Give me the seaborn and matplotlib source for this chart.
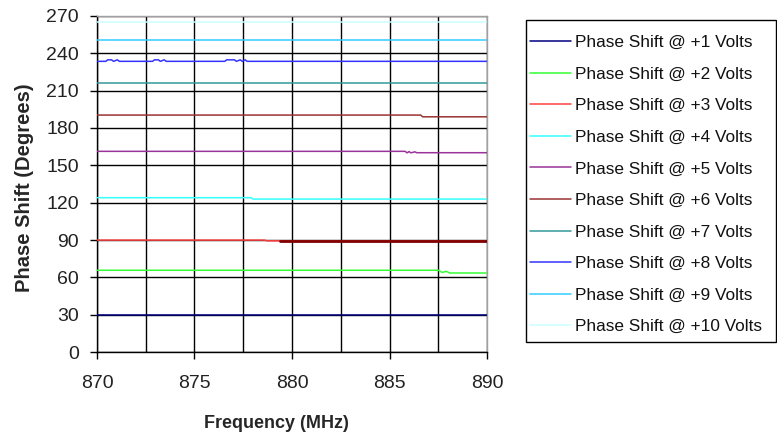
import numpy as np
import pandas as pd
import matplotlib
matplotlib.use("Agg")
import matplotlib.pyplot as plt
from matplotlib.patches import Rectangle
import seaborn as sns

# Phase shift vs frequency, one series per control voltage
volts = ["+1", "+2", "+3", "+4", "+5", "+6", "+7", "+8", "+9", "+10"]

freq_1 = [870, 890]
phase_1 = [30.0, 30.0]

freq_2 = [870, 887.5, 887.7, 887.9, 888.1, 888.3, 890]
phase_2 = [65.8, 65.8, 64.0, 65.0, 63.6, 63.6, 63.6]

freq_3 = [870, 878.6, 878.7, 890]
phase_3 = [90.0, 90.0, 89.4, 89.4]

freq_4 = [870, 877.9, 878.0, 890]
phase_4 = [124.0, 124.0, 122.9, 122.9]

freq_5 = [870, 885.8, 885.9, 886.0, 886.1, 886.3, 886.4, 890]
phase_5 = [161.2, 161.2, 160.0, 161.0, 160.0, 160.8, 160.1, 160.1]

freq_6 = [870, 886.6, 886.7, 890]
phase_6 = [190.3, 190.3, 188.9, 188.9]

freq_7 = [870, 890]
phase_7 = [216.0, 216.0]

freq_8 = [870, 870.45, 870.55, 870.75, 870.85, 871.05, 871.15,
          872.85, 872.95, 873.15, 873.25, 873.45, 873.55,
          876.55, 876.65, 877.05, 877.15, 877.35, 877.45, 877.6, 877.7, 890]
phase_8 = [233.4, 233.4, 234.6, 234.6, 233.4, 234.6, 233.4,
           233.4, 234.6, 234.6, 233.4, 234.6, 233.4,
           233.4, 234.6, 234.6, 233.4, 234.6, 233.4, 234.6, 233.4, 233.4]

freq_9 = [870, 890]
phase_9 = [250.7, 250.7]

freq_10 = [870, 890]
phase_10 = [264.6, 264.6]

# darker trace lying on top of the +3 V line past ~879 MHz
overlay_freq = [879.4, 890]
overlay_phase = [89.4, 89.4]

colors = ["#000080", "#33ff33", "#ff4040", "#33ffff", "#993399",
          "#993333", "#339999", "#3333ff", "#33ccff", "#ccffff"]

freqs = [freq_1, freq_2, freq_3, freq_4, freq_5, freq_6, freq_7, freq_8, freq_9, freq_10]
phases = [phase_1, phase_2, phase_3, phase_4, phase_5, phase_6, phase_7, phase_8, phase_9, phase_10]

rows = []
for v, fx, py in zip(volts, freqs, phases):
    for f, p in zip(fx, py):
        rows.append(dict(series=f"Phase Shift @ {v} Volts", freq=f, phase=p))
df = pd.DataFrame(rows)

sns.set_theme(style="white")
plt.rcParams["font.family"] = ["Liberation Sans", "DejaVu Sans"]

W, H = 777, 434
fig = plt.figure(figsize=(W / 100, H / 100), dpi=100)
ax = fig.add_axes([0.1248, 0.1883, 0.502, 0.7755])

labels = [f"Phase Shift @ {v} Volts" for v in volts]
sns.lineplot(data=df, x="freq", y="phase", hue="series", hue_order=labels,
             palette=colors, estimator=None, sort=False, units="series",
             linewidth=1.1, ax=ax, zorder=3)
ax.plot(overlay_freq, overlay_phase, color="#800000", linewidth=2.0, zorder=4)

ax.set_xlim(870, 890)
ax.set_ylim(0, 270)
ax.set_xticks(np.arange(870, 891, 5))
ax.set_xticks(np.arange(870, 891, 2.5), minor=True)
ax.set_yticks(np.arange(0, 271, 30))
ax.grid(True, which="both", axis="x", color="black", linewidth=1.0, zorder=1)
ax.grid(True, which="major", axis="y", color="black", linewidth=1.0, zorder=1)
ax.set_axisbelow(True)

ax.tick_params(axis="both", which="major", direction="out", length=5, width=1,
               color="black", labelsize=14, labelcolor="#222222",
               bottom=True, left=True)
ax.tick_params(axis="x", which="minor", length=0)
ax.tick_params(axis="x", which="major", pad=11)
ax.tick_params(axis="y", which="major", pad=8)

for side in ["left", "bottom"]:
    ax.spines[side].set_color("black")
    ax.spines[side].set_linewidth(1.0)
for side in ["top", "right"]:
    ax.spines[side].set_color("#a0a0a0")
    ax.spines[side].set_linewidth(1.0)

ax.set_xlabel("Frequency (MHz)", fontsize=13, fontweight="bold", labelpad=17, x=0.46)
ax.set_ylabel("Phase Shift (Degrees)", fontsize=14.5, fontweight="bold", labelpad=9, y=0.488)

# legend: entries without frame, box drawn separately
handles, _ = ax.get_legend_handles_labels()
if ax.get_legend():
    ax.get_legend().remove()
leg = fig.legend(handles[:10], labels, loc="upper left",
                 bbox_to_anchor=(530 / W, 1 - 35 / H), frameon=False,
                 fontsize=12.4, labelspacing=0.96,
                 handlelength=2.4, handletextpad=0.2, borderpad=0,
                 borderaxespad=0)
for t in leg.get_texts():
    t.set_color("#111111")
fig.patches.append(Rectangle((526 / W, 1 - 342 / H), 250 / W, 322 / H,
                             transform=fig.transFigure, fill=False,
                             edgecolor="black", linewidth=1.0))

fig.savefig("out.png", dpi=100)
